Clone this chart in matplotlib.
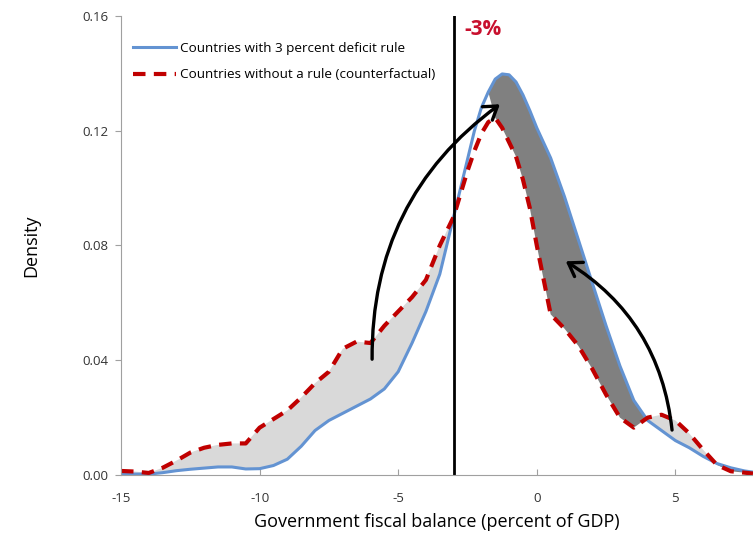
import numpy as np
import matplotlib
matplotlib.use("Agg")
import matplotlib.pyplot as plt
from matplotlib.patches import FancyArrowPatch

plt.rcParams["font.family"] = ["Open Sans", "DejaVu Sans"]
plt.rcParams["axes.unicode_minus"] = False

# Balance budgétaire (% du PIB) et densités
balance = [-15, -14.5, -14, -13.5, -13, -12.5, -12, -11.5, -11, -10.5,
           -10, -9.5, -9, -8.5, -8, -7.5, -7, -6.5, -6, -5.5,
           -5, -4.5, -4, -3.5, -3, -2.75, -2.5, -2.25, -2, -1.75,
           -1.5, -1.25, -1, -0.75, -0.5, -0.25, 0, 0.5, 1, 1.5,
           2, 2.5, 3, 3.5, 4, 4.5, 5, 5.5, 6, 6.5,
           7, 7.5, 7.8]

with_rule = [0.0004, 0.0003, 0.0003, 0.0008, 0.0015, 0.002, 0.0024, 0.0028, 0.0028, 0.0021,
             0.0022, 0.0033, 0.0055, 0.010, 0.0155, 0.019, 0.0215, 0.024, 0.0265, 0.030,
             0.036, 0.046, 0.057, 0.070, 0.090, 0.100, 0.110, 0.120, 0.128, 0.1335,
             0.138, 0.1398, 0.1395, 0.137, 0.1325, 0.127, 0.121, 0.1105, 0.097, 0.082,
             0.067, 0.052, 0.038, 0.026, 0.019, 0.0155, 0.012, 0.0095, 0.0065, 0.004,
             0.0025, 0.0014, 0.001]

without_rule = [0.0014, 0.0012, 0.0007, 0.0025, 0.005, 0.0078, 0.0095, 0.0105, 0.011, 0.011,
                0.0165, 0.0195, 0.0225, 0.027, 0.032, 0.036, 0.044, 0.0465, 0.046, 0.052,
                0.057, 0.062, 0.068, 0.080, 0.090, 0.098, 0.106, 0.113, 0.119, 0.123,
                0.1245, 0.121, 0.116, 0.111, 0.103, 0.093, 0.080, 0.056, 0.051, 0.045,
                0.037, 0.028, 0.020, 0.0165, 0.020, 0.021, 0.019, 0.0145, 0.0088, 0.0035,
                0.0013, 0.0008, 0.0005]

x = np.array(balance)
bleu = np.array(with_rule)
rouge = np.array(without_rule)

fig = plt.figure(figsize=(7.53, 5.40), dpi=100)
ax = fig.add_axes([0.1607, 0.1204, 0.8393, 0.85])

# zones grisées entre les deux densités
ax.fill_between(x, bleu, rouge, where=rouge >= bleu, interpolate=True,
                color="#d9d9d9", linewidth=0)
ax.fill_between(x, bleu, rouge, where=(bleu >= rouge) & (x >= -1.5), interpolate=True,
                color="#808080", linewidth=0)

ax.plot(x, bleu, color="#6393d2", linewidth=2.2,
        label="Countries with 3 percent deficit rule")
ax.plot(x, rouge, color="#c00000", linewidth=3, linestyle=(0, (3, 2)),
        label="Countries without a rule (counterfactual)")

ax.axvline(-3, color="black", linewidth=2)
ax.text(-2.6, 0.159, "-3%", color="#c8102e", fontsize=15, fontweight="bold",
        va="top", ha="left")

# flèches de déplacement de la masse
for debut, fin, courbure in [((-5.94, 0.0394), (-1.25, 0.1298), "arc3,rad=-0.26"),
                             ((4.89, 0.0147), (0.96, 0.075), "arc3,rad=0.25")]:
    ax.add_patch(FancyArrowPatch(debut, fin, connectionstyle=courbure,
                                 arrowstyle="->,head_length=9,head_width=6",
                                 color="black", linewidth=2.4, zorder=5))

ax.set_xlim(-15, 7.8)
ax.set_ylim(0, 0.16)
ax.set_xticks([-15, -10, -5, 0, 5])
ax.set_yticks([0, 0.04, 0.08, 0.12, 0.16])
ax.set_yticklabels(["0.00", "0.04", "0.08", "0.12", "0.16"])
ax.tick_params(axis="x", direction="in", length=4, color="#a0a0a0",
               labelsize=9.5, labelcolor="#333333", pad=12)
ax.tick_params(axis="y", direction="out", length=4, color="#a0a0a0",
               labelsize=9.5, labelcolor="#333333", pad=5)
for cote in ["top", "right"]:
    ax.spines[cote].set_visible(False)
for cote in ["left", "bottom"]:
    ax.spines[cote].set_color("#a0a0a0")

ax.set_xlabel("Government fiscal balance (percent of GDP)", fontsize=13, labelpad=6)
ax.set_ylabel("Density", fontsize=13, labelpad=30)

ax.legend(loc="upper left", bbox_to_anchor=(0.0, 0.97), frameon=False,
          fontsize=9.7, handlelength=3.2, labelspacing=1.0, handletextpad=0.3)

fig.savefig("out.png", dpi=100)
